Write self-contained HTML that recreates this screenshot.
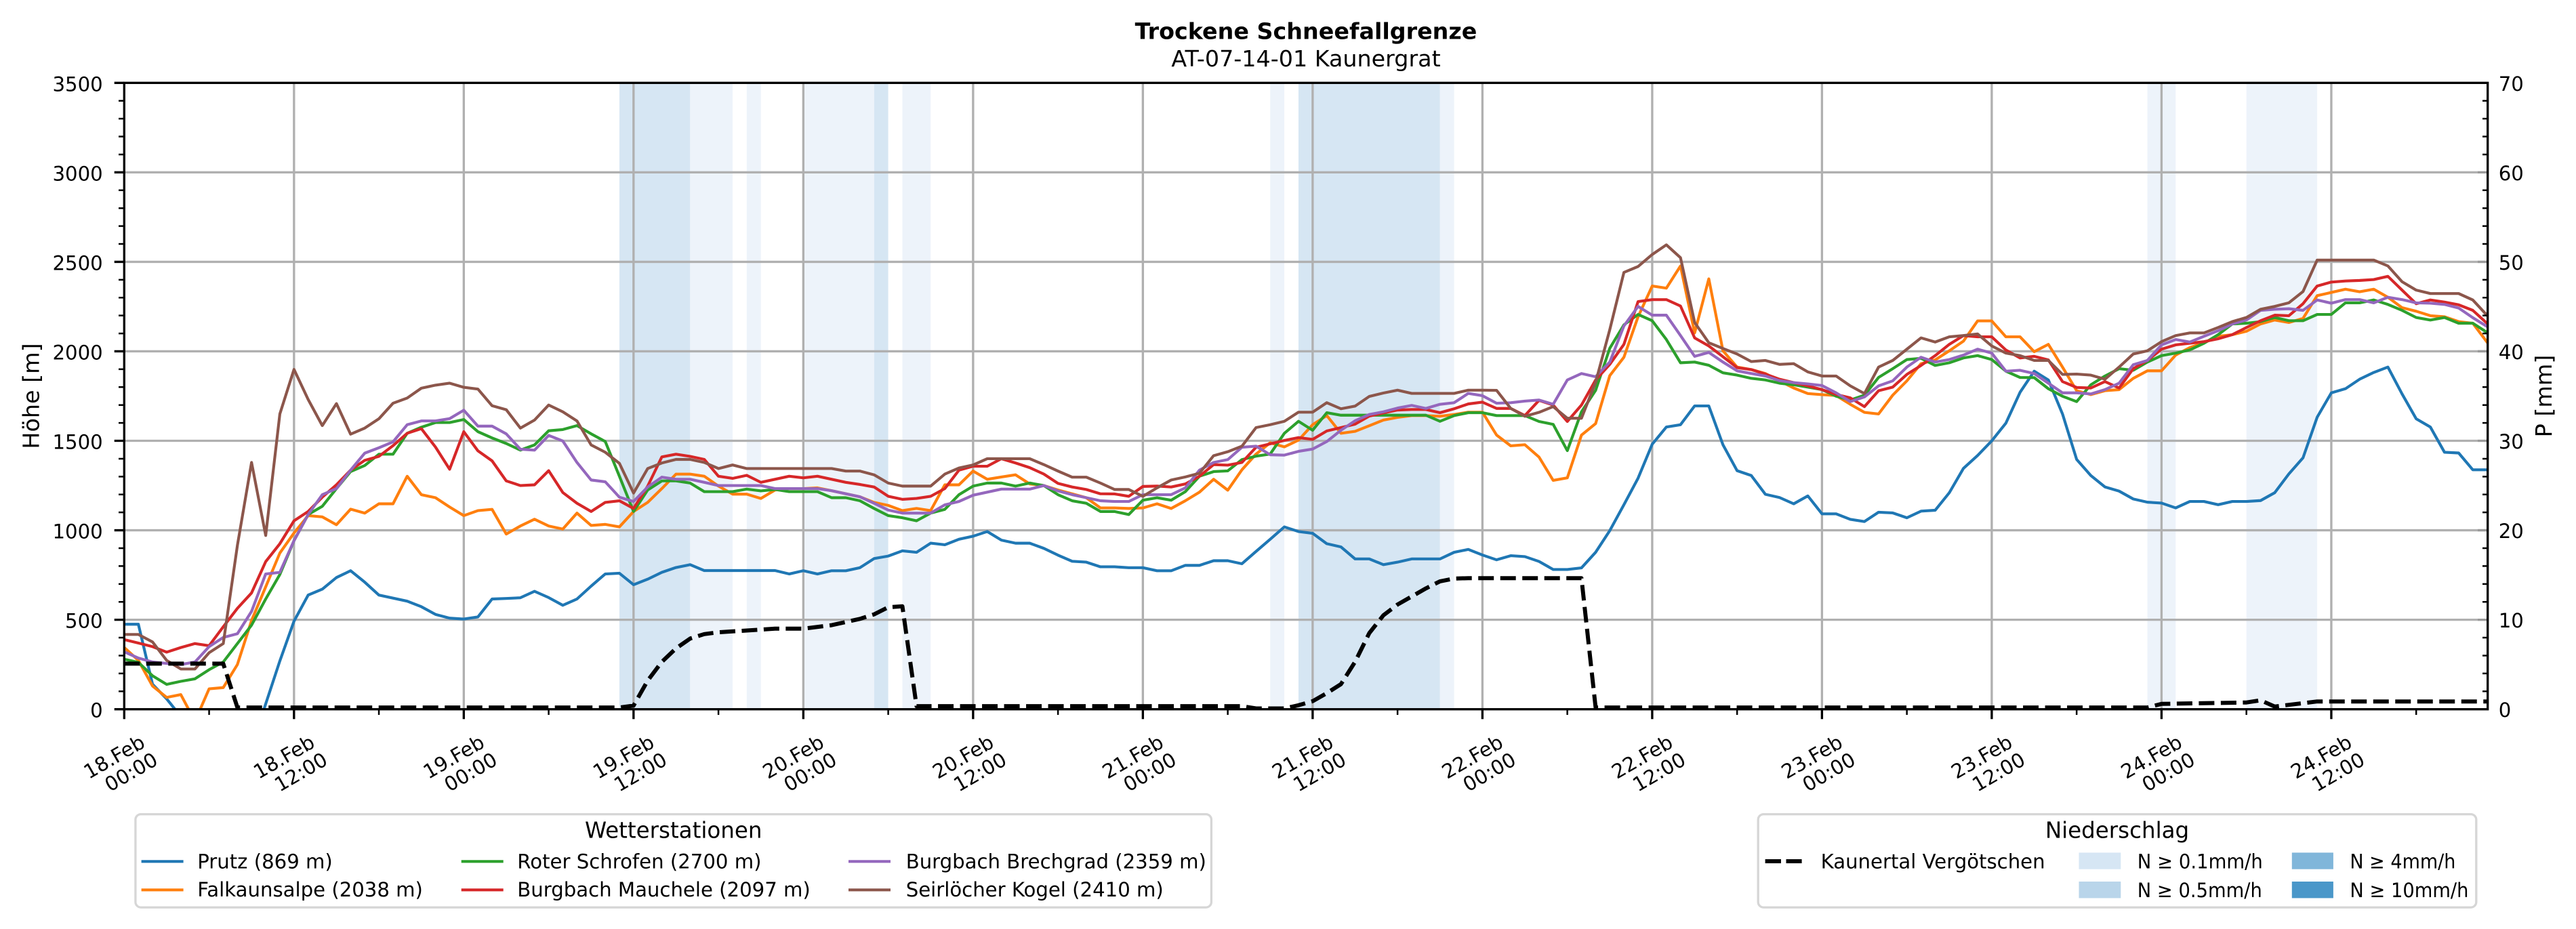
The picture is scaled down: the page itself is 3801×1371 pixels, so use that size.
<!DOCTYPE html>
<html>
<head>
<meta charset="utf-8">
<style>
html,body{margin:0;padding:0;background:#fff;}
svg{display:block;}
text{font-family:"DejaVu Sans","Liberation Sans",sans-serif;fill:#000;}
</style>
</head>
<body>
<svg width="3801" height="1371" viewBox="0 0 3801 1371" xmlns="http://www.w3.org/2000/svg">
<defs>
<clipPath id="pc"><rect x="183.3" y="122.3" width="3487.4" height="924.4"/></clipPath>
</defs>
<rect x="0" y="0" width="3801" height="1371" fill="#ffffff"/>

<!-- precipitation bands -->
<g>
<rect x="913.96" y="122.3" width="104.38" height="924.4" fill="#d6e6f3"/>
<rect x="1289.73" y="122.3" width="20.87" height="924.4" fill="#d6e6f3"/>
<rect x="1915.98" y="122.3" width="208.76" height="924.4" fill="#d6e6f3"/>
<rect x="1018.34" y="122.3" width="62.63" height="924.4" fill="#edf3fa"/>
<rect x="1101.84" y="122.3" width="20.88" height="924.4" fill="#edf3fa"/>
<rect x="1185.35" y="122.3" width="104.38" height="924.4" fill="#edf3fa"/>
<rect x="1331.48" y="122.3" width="41.75" height="924.4" fill="#edf3fa"/>
<rect x="1874.23" y="122.3" width="20.87" height="924.4" fill="#edf3fa"/>
<rect x="2124.74" y="122.3" width="20.88" height="924.4" fill="#edf3fa"/>
<rect x="3168.56" y="122.3" width="41.75" height="924.4" fill="#edf3fa"/>
<rect x="3314.69" y="122.3" width="104.38" height="924.4" fill="#edf3fa"/>
</g>

<!-- grid -->
<g stroke="#b0b0b0" stroke-width="3.33" fill="none">
<path d="M183.3,914.64H3670.7M183.3,782.58H3670.7M183.3,650.52H3670.7M183.3,518.46H3670.7M183.3,386.40H3670.7M183.3,254.34H3670.7"/>
<path d="M433.81,122.3V1046.7M684.32,122.3V1046.7M934.83,122.3V1046.7M1185.34,122.3V1046.7M1435.85,122.3V1046.7M1686.36,122.3V1046.7M1936.87,122.3V1046.7M2187.38,122.3V1046.7M2437.89,122.3V1046.7M2688.40,122.3V1046.7M2938.91,122.3V1046.7M3189.42,122.3V1046.7M3439.93,122.3V1046.7"/>
</g>

<!-- series -->
<g clip-path="url(#pc)">
<g transform="matrix(20.876 0 0 -0.26411 183.3 1046.7)" fill="none" stroke-width="4.17" stroke-linejoin="round" stroke-linecap="square">
<polyline vector-effect="non-scaling-stroke" stroke="#1f77b4" points="0,475 1,475 2,140 3,58 4,-40 5,-200 6,-250 7,-250 8,-250 9,-211 10,30 11,270 12,492 13,638 14,671 15,736 16,774 17,710 18,638 19,621 20,604 21,573 22,530 23,509 24,504 25,516 26,616 27,619 28,623 29,659 30,624 31,581 32,616 33,688 34,756 35,760 36,696 37,727 38,765 39,792 40,808 41,775 42,775 43,775 44,775 45,775 46,775 47,756 48,774 49,756 50,774 51,774 52,791 53,842 54,856 55,885 56,877 57,928 58,919 59,950 60,967 61,993 62,945 63,928 64,928 65,899 66,861 67,827 68,822 69,796 70,796 71,791 72,791 73,774 74,774 75,804 76,804 77,830 78,830 79,813 80,882 81,950 82,1019 83,993 84,983 85,925 86,907 87,840 88,840 89,808 90,822 91,840 92,840 93,840 94,877 95,893 96,862 97,835 98,858 99,853 100,826 101,781 102,781 103,790 104,877 105,998 106,1143 107,1291 108,1481 109,1577 110,1590 111,1695 112,1695 113,1478 114,1333 115,1306 116,1201 117,1183 118,1148 119,1192 120,1092 121,1092 122,1061 123,1049 124,1101 125,1097 126,1070 127,1107 128,1112 129,1210 130,1346 131,1418 132,1500 133,1599 134,1771 135,1889 136,1840 137,1650 138,1396 139,1306 140,1242 141,1219 142,1175 143,1157 144,1152 145,1125 146,1161 147,1161 148,1143 149,1161 150,1161 151,1166 152,1210 153,1315 154,1405 155,1632 156,1768 157,1791 158,1844 159,1882 160,1912 161,1762 162,1623 163,1577 164,1436 165,1432 166,1338 167,1338"/>
<polyline vector-effect="non-scaling-stroke" stroke="#ff7f0e" points="0,345 1,273 2,130 3,66 4,82 5,-67 6,114 7,121 8,250 9,496 10,684 11,873 12,985 13,1082 14,1075 15,1031 16,1118 17,1096 18,1148 19,1148 20,1302 21,1199 22,1182 23,1130 24,1082 25,1110 26,1117 27,979 28,1024 29,1062 30,1024 31,1007 32,1096 33,1027 34,1033 35,1019 36,1105 37,1156 38,1233 39,1314 40,1314 41,1302 42,1247 43,1202 44,1202 45,1178 46,1225 47,1233 48,1233 49,1237 50,1221 51,1204 52,1187 53,1156 54,1139 55,1110 56,1122 57,1110 58,1254 59,1254 60,1331 61,1285 62,1298 63,1310 64,1259 65,1250 66,1225 67,1204 68,1182 69,1125 70,1125 71,1122 72,1125 73,1148 74,1122 75,1165 76,1213 77,1285 78,1224 79,1338 80,1426 81,1489 82,1466 83,1504 84,1590 85,1641 86,1542 87,1553 88,1584 89,1616 90,1631 91,1641 92,1641 93,1637 94,1647 95,1660 96,1660 97,1532 98,1472 99,1478 100,1409 101,1279 102,1293 103,1532 104,1596 105,1864 106,1967 107,2193 108,2365 109,2353 110,2477 111,2103 112,2405 113,2003 114,1912 115,1898 116,1876 117,1835 118,1795 119,1764 120,1758 121,1753 122,1704 123,1659 124,1650 125,1755 126,1835 127,1931 128,1952 129,2003 130,2057 131,2170 132,2170 133,2081 134,2081 135,1998 136,2039 137,1912 138,1780 139,1758 140,1780 141,1786 142,1849 143,1891 144,1891 145,1979 146,2021 147,2048 148,2084 149,2093 150,2112 151,2153 152,2175 153,2161 154,2184 155,2311 156,2329 157,2347 158,2333 159,2347 160,2302 161,2244 162,2224 163,2199 164,2193 165,2166 166,2157 167,2052"/>
<polyline vector-effect="non-scaling-stroke" stroke="#2ca02c" points="0,280 1,262 2,187 3,139 4,156 5,170 6,221 7,264 8,367 9,470 10,616 11,753 12,942 13,1088 14,1134 15,1233 16,1328 17,1362 18,1425 19,1425 20,1542 21,1576 22,1602 23,1602 24,1619 25,1551 26,1516 27,1485 28,1448 29,1477 30,1556 31,1563 32,1585 33,1539 34,1496 35,1302 36,1105 37,1225 38,1276 39,1276 40,1264 41,1216 42,1216 43,1216 44,1230 45,1220 46,1228 47,1216 48,1216 49,1216 50,1182 51,1182 52,1165 53,1122 54,1082 55,1070 56,1053 57,1096 58,1117 59,1199 60,1247 61,1264 62,1264 63,1247 64,1264 65,1250 66,1199 67,1165 68,1151 69,1105 70,1105 71,1088 72,1168 73,1182 74,1168 75,1216 76,1302 77,1328 78,1332 79,1395 80,1414 81,1426 82,1542 83,1609 84,1559 85,1657 86,1643 87,1643 88,1643 89,1643 90,1643 91,1643 92,1643 93,1609 94,1641 95,1657 96,1657 97,1641 98,1641 99,1641 100,1608 101,1592 102,1445 103,1662 104,1782 105,2017 106,2148 107,2206 108,2171 109,2066 110,1936 111,1940 112,1922 113,1880 114,1867 115,1849 116,1840 117,1822 118,1813 119,1800 120,1786 121,1749 122,1728 123,1755 124,1854 125,1903 126,1954 127,1961 128,1921 129,1936 130,1963 131,1976 132,1954 133,1889 134,1854 135,1853 136,1791 137,1749 138,1719 139,1813 140,1862 141,1903 142,1894 143,1940 144,1976 145,1990 146,2008 147,2045 148,2093 149,2153 150,2157 151,2166 152,2189 153,2171 154,2171 155,2206 156,2206 157,2271 158,2271 159,2287 160,2262 161,2229 162,2189 163,2175 164,2189 165,2157 166,2157 167,2106"/>
<polyline vector-effect="non-scaling-stroke" stroke="#d62728" points="0,389 1,370 2,350 3,319 4,345 5,367 6,355 7,461 8,564 9,650 10,825 11,925 12,1053 13,1105 14,1185 15,1254 16,1336 17,1391 18,1413 19,1473 20,1542 21,1568 22,1465 23,1341 24,1551 25,1444 26,1388 27,1276 28,1250 29,1254 30,1333 31,1211 32,1151 33,1105 34,1156 35,1165 36,1122 37,1247 38,1410 39,1425 40,1413 41,1396 42,1302 43,1290 44,1307 45,1268 46,1285 47,1302 48,1293 49,1302 50,1285 51,1268 52,1256 53,1242 54,1190 55,1173 56,1178 57,1190 58,1233 59,1336 60,1358 61,1358 62,1400 63,1376 64,1350 65,1314 66,1262 67,1242 68,1228 69,1204 70,1203 71,1190 72,1245 73,1247 74,1242 75,1259 76,1302 77,1367 78,1364 79,1379 80,1464 81,1483 82,1502 83,1518 84,1508 85,1555 86,1574 87,1593 88,1638 89,1656 90,1672 91,1675 92,1675 93,1657 94,1679 95,1706 96,1716 97,1681 98,1681 99,1641 100,1726 101,1700 102,1608 103,1700 104,1840 105,1927 106,2039 107,2278 108,2289 109,2289 110,2253 111,2075 112,2030 113,1970 114,1909 115,1898 116,1873 117,1844 118,1825 119,1807 120,1786 121,1759 122,1740 123,1691 124,1780 125,1800 126,1871 127,1921 128,1976 129,2039 130,2088 131,2081 132,2081 133,2007 134,1963 135,1972 136,1952 137,1831 138,1798 139,1795 140,1831 141,1795 142,1903 143,1949 144,2012 145,2036 146,2045 147,2054 148,2070 149,2093 150,2133 151,2171 152,2202 153,2199 154,2266 155,2365 156,2387 157,2393 158,2396 159,2401 160,2419 161,2342 162,2266 163,2287 164,2275 165,2260 166,2229 167,2157"/>
<polyline vector-effect="non-scaling-stroke" stroke="#9467bd" points="0,321 1,286 2,264 3,256 4,250 5,264 6,350 7,401 8,422 9,547 10,756 11,765 12,942 13,1088 14,1199 15,1233 16,1336 17,1431 18,1461 19,1494 20,1590 21,1611 22,1611 23,1624 24,1671 25,1582 26,1582 27,1539 28,1453 29,1448 30,1530 31,1499 32,1379 33,1281 34,1271 35,1185 36,1161 37,1242 38,1297 39,1285 40,1285 41,1268 42,1250 43,1250 44,1250 45,1250 46,1233 47,1233 48,1233 49,1233 50,1221 51,1204 52,1187 53,1151 54,1113 55,1096 56,1096 57,1096 58,1142 59,1161 60,1196 61,1213 62,1230 63,1230 64,1230 65,1250 66,1220 67,1199 68,1182 69,1165 70,1161 71,1161 72,1199 73,1199 74,1199 75,1237 76,1336 77,1379 78,1395 79,1464 80,1470 81,1422 82,1420 83,1441 84,1454 85,1496 86,1559 87,1612 88,1647 89,1662 90,1683 91,1698 92,1681 93,1704 94,1713 95,1765 96,1752 97,1710 98,1713 99,1722 100,1728 101,1704 102,1840 103,1876 104,1858 105,1940 106,2142 107,2251 108,2202 109,2202 110,2088 111,1972 112,1994 113,1940 114,1891 115,1876 116,1862 117,1836 118,1825 119,1818 120,1809 121,1768 122,1719 123,1745 124,1807 125,1835 126,1912 127,1967 128,1940 129,1954 130,1979 131,2012 132,1990 133,1889 134,1894 135,1876 136,1822 137,1768 138,1768 139,1762 140,1786 141,1822 142,1925 143,1949 144,2036 145,2066 146,2052 147,2084 148,2115 149,2153 150,2175 151,2229 152,2235 153,2238 154,2229 155,2287 156,2269 157,2289 158,2289 159,2271 160,2302 161,2289 162,2271 163,2269 164,2262 165,2242 166,2188 167,2139"/>
<polyline vector-effect="non-scaling-stroke" stroke="#8c564b" points="0,418 1,418 2,376 3,273 4,225 5,225 6,316 7,367 8,916 9,1379 10,971 11,1650 12,1899 13,1731 14,1585 15,1708 16,1537 17,1571 18,1623 19,1710 20,1739 21,1794 22,1811 23,1822 24,1799 25,1789 26,1696 27,1674 28,1571 29,1616 30,1700 31,1662 32,1611 33,1477 34,1436 35,1374 36,1208 37,1345 38,1376 39,1396 40,1396 41,1379 42,1345 43,1365 44,1345 45,1345 46,1345 47,1345 48,1345 49,1345 50,1345 51,1331 52,1331 53,1310 54,1264 55,1247 56,1247 57,1247 58,1314 59,1348 60,1365 61,1400 62,1400 63,1400 64,1400 65,1367 66,1331 67,1297 68,1297 69,1264 70,1228 71,1228 72,1190 73,1237 74,1281 75,1298 76,1319 77,1417 78,1439 79,1470 80,1574 81,1590 82,1609 83,1660 84,1660 85,1713 86,1679 87,1694 88,1748 89,1767 90,1783 91,1765 92,1765 93,1765 94,1765 95,1783 96,1783 97,1782 98,1681 99,1637 100,1659 101,1691 102,1626 103,1626 104,1827 105,2121 106,2441 107,2474 108,2541 109,2595 110,2523 111,2161 112,2048 113,2016 114,1985 115,1943 116,1949 117,1927 118,1931 119,1885 120,1862 121,1862 122,1807 123,1764 124,1912 125,1949 126,2012 127,2075 128,2052 129,2081 130,2088 131,2097 132,2030 133,1990 134,1976 135,1949 136,1949 137,1871 138,1873 139,1867 140,1844 141,1912 142,1985 143,2003 144,2054 145,2088 146,2103 147,2103 148,2133 149,2166 150,2189 151,2235 152,2251 153,2271 154,2334 155,2510 156,2510 157,2510 158,2510 159,2510 160,2477 161,2389 162,2342 163,2323 164,2323 165,2323 166,2287 167,2202"/>
</g>
<polyline fill="none" stroke="#000" stroke-width="6" stroke-dasharray="23 9.5" stroke-linejoin="round" stroke-linecap="butt" points="183.3,979.4 329.4,979.4 350.3,1044.1 914.0,1044.1 934.8,1041.4 955.7,1004.4 976.6,976.7 997.5,956.9 1018.3,942.4 1039.2,935.8 1060.1,933.1 1101.8,930.5 1143.6,927.8 1185.4,927.8 1227.1,922.6 1268.9,913.3 1289.7,906.7 1310.6,896.2 1331.5,894.8 1352.4,1042.1 1832.5,1042.1 1853.4,1045.5 1895.1,1045.5 1916.0,1040.8 1936.9,1034.8 1957.8,1022.9 1978.6,1009.7 1999.5,976.7 2020.4,934.4 2041.3,908.0 2062.1,892.2 2083.0,880.3 2103.9,868.4 2124.8,857.9 2145.6,853.9 2166.5,853.2 2333.5,853.2 2354.4,1044.1 3168.6,1044.1 3189.4,1038.8 3314.7,1036.7 3335.6,1033.5 3356.5,1042.7 3419.1,1035.2 3669.6,1035.2"/>
</g>

<!-- ticks -->
<g stroke="#000" fill="none">
<path stroke-width="3.33" d="M168.7,1046.7H183.3M168.7,914.64H183.3M168.7,782.58H183.3M168.7,650.52H183.3M168.7,518.46H183.3M168.7,386.40H183.3M168.7,254.34H183.3M168.7,122.3H183.3"/>
<path stroke-width="2.5" d="M175,1020.29H183.3M175,993.88H183.3M175,967.47H183.3M175,941.06H183.3M175,888.23H183.3M175,861.82H183.3M175,835.41H183.3M175,809.00H183.3M175,756.18H183.3M175,729.77H183.3M175,703.36H183.3M175,676.95H183.3M175,624.12H183.3M175,597.71H183.3M175,571.30H183.3M175,544.89H183.3M175,492.07H183.3M175,465.66H183.3M175,439.25H183.3M175,412.84H183.3M175,360.01H183.3M175,333.60H183.3M175,307.19H183.3M175,280.78H183.3M175,227.96H183.3M175,201.55H183.3M175,175.14H183.3M175,148.73H183.3"/>
<path stroke-width="2.5" d="M3663,1020.29H3670.7M3663,993.88H3670.7M3663,967.47H3670.7M3663,941.06H3670.7M3663,888.23H3670.7M3663,861.82H3670.7M3663,835.41H3670.7M3663,809.00H3670.7M3663,756.18H3670.7M3663,729.77H3670.7M3663,703.36H3670.7M3663,676.95H3670.7M3663,624.12H3670.7M3663,597.71H3670.7M3663,571.30H3670.7M3663,544.89H3670.7M3663,492.07H3670.7M3663,465.66H3670.7M3663,439.25H3670.7M3663,412.84H3670.7M3663,360.01H3670.7M3663,333.60H3670.7M3663,307.19H3670.7M3663,280.78H3670.7M3663,227.96H3670.7M3663,201.55H3670.7M3663,175.14H3670.7M3663,148.73H3670.7"/>
<path stroke-width="3.33" stroke="#9a9a9a" d="M3656,914.64H3670.7M3656,782.58H3670.7M3656,650.52H3670.7M3656,518.46H3670.7M3656,386.40H3670.7M3656,254.34H3670.7"/>
<path stroke-width="3.33" d="M183.3,1046.7V1061.3M433.81,1046.7V1061.3M684.32,1046.7V1061.3M934.83,1046.7V1061.3M1185.34,1046.7V1061.3M1435.85,1046.7V1061.3M1686.36,1046.7V1061.3M1936.87,1046.7V1061.3M2187.38,1046.7V1061.3M2437.89,1046.7V1061.3M2688.40,1046.7V1061.3M2938.91,1046.7V1061.3M3189.42,1046.7V1061.3M3439.93,1046.7V1061.3"/>
<path stroke-width="2.5" d="M308.56,1046.7V1055M559.07,1046.7V1055M809.58,1046.7V1055M1060.09,1046.7V1055M1310.60,1046.7V1055M1561.11,1046.7V1055M1811.62,1046.7V1055M2062.13,1046.7V1055M2312.64,1046.7V1055M2563.15,1046.7V1055M2813.66,1046.7V1055M3064.17,1046.7V1055M3314.68,1046.7V1055M3565.19,1046.7V1055"/>
<rect x="183.3" y="122.3" width="3487.4" height="924.4" stroke-width="3.33"/>
</g>

<!-- y tick labels -->
<g font-size="29.17" text-anchor="end">
<text x="151.7" y="1058.7">0</text>
<text x="151.7" y="926.6">500</text>
<text x="151.7" y="794.6">1000</text>
<text x="151.7" y="662.5">1500</text>
<text x="151.7" y="530.5">2000</text>
<text x="151.7" y="398.4">2500</text>
<text x="151.7" y="266.3">3000</text>
<text x="151.7" y="134.3">3500</text>
</g>
<g font-size="29.17" text-anchor="start">
<text x="3686.7" y="1058.2">0</text>
<text x="3686.7" y="926.1">10</text>
<text x="3686.7" y="794.1">20</text>
<text x="3686.7" y="662.0">30</text>
<text x="3686.7" y="530.0">40</text>
<text x="3686.7" y="397.9">50</text>
<text x="3686.7" y="265.8">60</text>
<text x="3686.7" y="133.8">70</text>
</g>

<!-- x tick labels -->
<g font-size="29.17" text-anchor="middle">
<text transform="translate(168.3,1116.7) rotate(-30)" dy="0.36em">18.Feb</text>
<text transform="translate(193.3,1139) rotate(-30)" dy="0.36em">00:00</text>
<text transform="translate(418.8,1116.7) rotate(-30)" dy="0.36em">18.Feb</text>
<text transform="translate(443.8,1139) rotate(-30)" dy="0.36em">12:00</text>
<text transform="translate(669.3,1116.7) rotate(-30)" dy="0.36em">19.Feb</text>
<text transform="translate(694.3,1139) rotate(-30)" dy="0.36em">00:00</text>
<text transform="translate(919.8,1116.7) rotate(-30)" dy="0.36em">19.Feb</text>
<text transform="translate(944.8,1139) rotate(-30)" dy="0.36em">12:00</text>
<text transform="translate(1170.3,1116.7) rotate(-30)" dy="0.36em">20.Feb</text>
<text transform="translate(1195.3,1139) rotate(-30)" dy="0.36em">00:00</text>
<text transform="translate(1420.9,1116.7) rotate(-30)" dy="0.36em">20.Feb</text>
<text transform="translate(1445.9,1139) rotate(-30)" dy="0.36em">12:00</text>
<text transform="translate(1671.4,1116.7) rotate(-30)" dy="0.36em">21.Feb</text>
<text transform="translate(1696.4,1139) rotate(-30)" dy="0.36em">00:00</text>
<text transform="translate(1921.9,1116.7) rotate(-30)" dy="0.36em">21.Feb</text>
<text transform="translate(1946.9,1139) rotate(-30)" dy="0.36em">12:00</text>
<text transform="translate(2172.4,1116.7) rotate(-30)" dy="0.36em">22.Feb</text>
<text transform="translate(2197.4,1139) rotate(-30)" dy="0.36em">00:00</text>
<text transform="translate(2422.9,1116.7) rotate(-30)" dy="0.36em">22.Feb</text>
<text transform="translate(2447.9,1139) rotate(-30)" dy="0.36em">12:00</text>
<text transform="translate(2673.4,1116.7) rotate(-30)" dy="0.36em">23.Feb</text>
<text transform="translate(2698.4,1139) rotate(-30)" dy="0.36em">00:00</text>
<text transform="translate(2923.9,1116.7) rotate(-30)" dy="0.36em">23.Feb</text>
<text transform="translate(2948.9,1139) rotate(-30)" dy="0.36em">12:00</text>
<text transform="translate(3174.4,1116.7) rotate(-30)" dy="0.36em">24.Feb</text>
<text transform="translate(3199.4,1139) rotate(-30)" dy="0.36em">00:00</text>
<text transform="translate(3424.9,1116.7) rotate(-30)" dy="0.36em">24.Feb</text>
<text transform="translate(3449.9,1139) rotate(-30)" dy="0.36em">12:00</text>
</g>

<!-- axis labels -->
<text font-size="33.33" text-anchor="middle" transform="translate(45.4,584.5) rotate(-90)" dy="0.36em">Höhe [m]</text>
<text font-size="33.33" text-anchor="middle" transform="translate(3753,584.5) rotate(-90)" dy="0.36em">P [mm]</text>

<!-- title -->
<text x="1927" y="57.7" font-size="33.33" font-weight="bold" text-anchor="middle">Trockene Schneefallgrenze</text>
<text x="1927" y="97.9" font-size="33.33" text-anchor="middle">AT-07-14-01 Kaunergrat</text>

<!-- legend 1 -->
<rect x="199.9" y="1201.6" width="1587.5" height="137.5" rx="8" ry="8" fill="#fff" stroke="#d6d6d6" stroke-width="3.3"/>
<text x="993.7" y="1236.7" font-size="32.5" text-anchor="middle">Wetterstationen</text>
<g stroke-width="4.17" fill="none">
<path d="M208.6,1271.3H270.6" stroke="#1f77b4"/>
<path d="M208.6,1313.3H270.6" stroke="#ff7f0e"/>
<path d="M680.7,1271.3H742.7" stroke="#2ca02c"/>
<path d="M680.7,1313.3H742.7" stroke="#d62728"/>
<path d="M1252,1271.3H1314" stroke="#9467bd"/>
<path d="M1252,1313.3H1314" stroke="#8c564b"/>
</g>
<g font-size="29.17">
<text x="291.2" y="1281.5">Prutz (869 m)</text>
<text x="291.2" y="1323.2">Falkaunsalpe (2038 m)</text>
<text x="763.3" y="1281.5">Roter Schrofen (2700 m)</text>
<text x="763.3" y="1323.2">Burgbach Mauchele (2097 m)</text>
<text x="1336.7" y="1281.5">Burgbach Brechgrad (2359 m)</text>
<text x="1336.7" y="1323.2">Seirlöcher Kogel (2410 m)</text>
</g>

<!-- legend 2 -->
<rect x="2594.2" y="1201.6" width="1059.6" height="137.5" rx="8" ry="8" fill="#fff" stroke="#d6d6d6" stroke-width="3.3"/>
<text x="3124" y="1236.7" font-size="32.5" text-anchor="middle">Niederschlag</text>
<path d="M2604.6,1271H2628M2635.5,1271H2658.6" stroke="#000" stroke-width="6" fill="none"/>
<rect x="3067.5" y="1258.3" width="61.8" height="24.4" fill="#d6e6f4"/>
<rect x="3067.5" y="1301" width="61.8" height="24.4" fill="#b9d5ea"/>
<rect x="3381.8" y="1258.3" width="61.1" height="24.4" fill="#80b6da"/>
<rect x="3381.8" y="1301" width="61.1" height="24.4" fill="#4a97c9"/>
<g font-size="29.17">
<text x="2686.6" y="1281.5">Kaunertal Vergötschen</text>
<text x="3153.8" y="1281.5" textLength="185" lengthAdjust="spacingAndGlyphs">N ≥ 0.1mm/h</text>
<text x="3153.8" y="1323.8" textLength="184" lengthAdjust="spacingAndGlyphs">N ≥ 0.5mm/h</text>
<text x="3467.4" y="1281.5" textLength="156" lengthAdjust="spacingAndGlyphs">N ≥ 4mm/h</text>
<text x="3467.4" y="1323.8" textLength="175" lengthAdjust="spacingAndGlyphs">N ≥ 10mm/h</text>
</g>
</svg>
</body>
</html>
